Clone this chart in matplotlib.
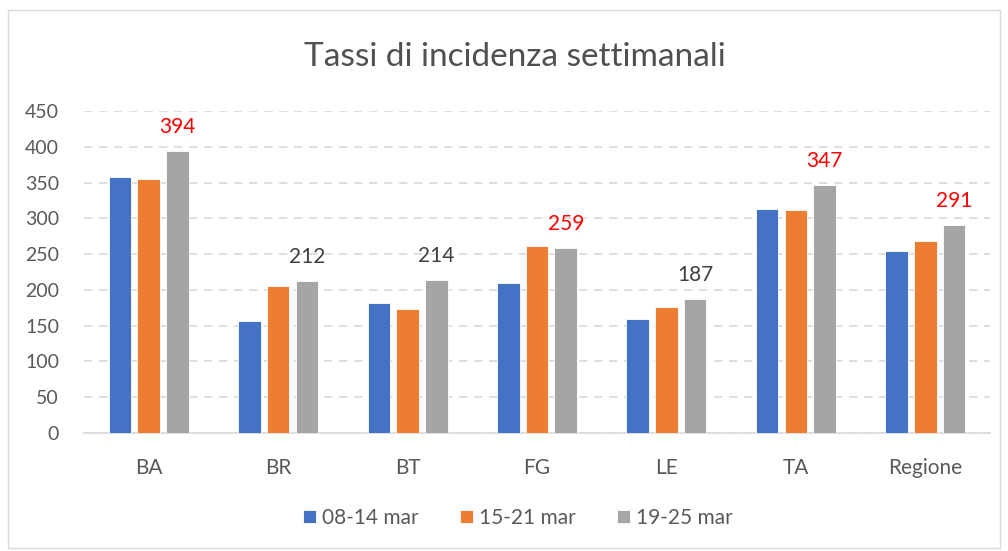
import matplotlib
matplotlib.use("Agg")
import matplotlib.pyplot as plt
import numpy as np
from matplotlib.patches import Rectangle

# ---------------------------------------------------------------------------
# Data
# ---------------------------------------------------------------------------
categories = ["BA", "BR", "BT", "FG", "LE", "TA", "Regione"]
series_names = ["08-14 mar", "15-21 mar", "19-25 mar"]
week1 = [358, 156, 182, 210, 160, 313, 254]
week2 = [355, 206, 173, 261, 176, 312, 269]
week3 = [394, 212, 214, 259, 187, 347, 291]
# which labels of the last week are highlighted in red
highlight = [True, False, False, True, False, True, True]

COLORS = ["#4472C4", "#ED7D31", "#A5A5A5"]
FONT = ["Lato", "DejaVu Sans"]

plt.rcParams["font.family"] = FONT

fig = plt.figure(figsize=(10.08, 5.51), dpi=100)
fig.patches.append(Rectangle((8 / 1008, 3 / 551), 992 / 1008, 538 / 551,
                             transform=fig.transFigure, fill=False,
                             edgecolor="#D9D9D9", linewidth=1.0))

ax = fig.add_axes([84 / 1008, 118 / 551, 906 / 1008, 322 / 551])

x = np.arange(len(categories))
width = 0.174
pitch = 0.222
bars = []
for i, (vals, name) in enumerate(zip([week1, week2, week3], series_names)):
    b = ax.bar(x + (i - 1) * pitch, vals, width, color=COLORS[i], label=name,
               edgecolor="white", linewidth=0.6, zorder=3)
    bars.append(b)

for rect, val, hl in zip(bars[2], week3, highlight):
    ax.annotate(f"{val}", (rect.get_x() + rect.get_width() / 2, val),
                xytext=(0, 10), textcoords="offset points",
                ha="center", va="bottom", fontsize=15,
                color="#FF0000" if hl else "#404040")

ax.set_xlim(-0.5, len(categories) - 0.5)
ax.set_ylim(0, 450)
ax.set_yticks(np.arange(0, 451, 50))
ax.set_xticks(x)
ax.set_xticklabels(categories)
ax.tick_params(axis="both", length=0, labelsize=14, colors="#595959")
ax.tick_params(axis="x", labelsize=15, pad=18)
ax.tick_params(axis="y", pad=18)
ax.grid(axis="y", linestyle=(0, (5, 4)), color="#D9D9D9", linewidth=1.2, zorder=0)
for side in ["top", "right", "left"]:
    ax.spines[side].set_visible(False)
ax.spines["bottom"].set_color("#D9D9D9")
ax.spines["bottom"].set_linewidth(1.2)

fig.text(515 / 1008, 1 - 57 / 551, "Tassi di incidenza settimanali",
         ha="center", va="center", fontsize=24, color="#505050")

fig.legend(loc="center", bbox_to_anchor=(518 / 1008, 1 - 518 / 551), ncol=3,
           frameon=False, fontsize=15, handlelength=0.6, handleheight=0.6,
           handletextpad=0.3, columnspacing=2.0, labelcolor="#595959")

fig.savefig("out.png", dpi=100)
